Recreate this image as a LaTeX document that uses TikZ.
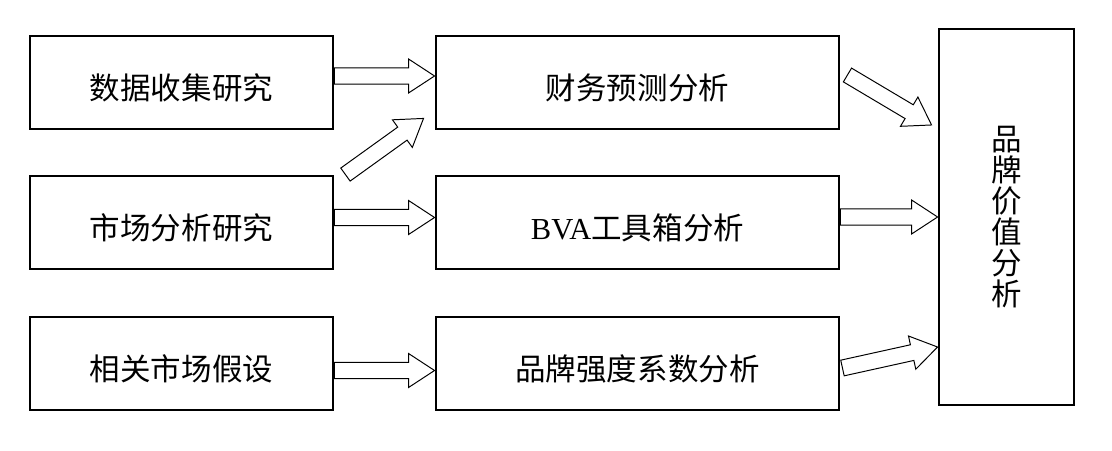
\documentclass[tikz,border=0pt]{standalone}
\usepackage{fontspec}
\setmainfont{Liberation Serif}
\newfontfamily\cjk{Noto Sans CJK SC}
\usetikzlibrary{calc}
\tikzset{
  box/.style={draw, line width=2pt, inner sep=0pt, font=\fontsize{21.7}{22}\selectfont\cjk},
  srcbox/.style={box, minimum width=7.575cm, minimum height=2.325cm, text height=0.93cm, text depth=0.1cm},
  midbox/.style={box, minimum width=10.075cm, minimum height=2.325cm, text height=0.93cm, text depth=0.1cm},
  valbox/.style={box, minimum width=3.375cm, minimum height=9.4cm, align=center},
  hollow/.style={draw, line width=0.7pt, fill=white, line join=miter}
}
\newcommand\blockarrow[2]{%
  \path let \p1=($(#2)-(#1)$), \n1={atan2(\y1,\x1)}, \n2={veclen(\x1,\y1)} in
    \pgfextra{\xdef\baang{\n1}\xdef\balen{\n2}};
  \draw[hollow, shift={(#1)}, rotate=\baang] (0pt,-5.7pt) -- ({\balen-18.5pt},-5.7pt)
    -- ({\balen-18.5pt},-12.1pt) -- (\balen,0pt) -- ({\balen-18.5pt},12.1pt)
    -- ({\balen-18.5pt},5.7pt) -- (0pt,5.7pt) -- cycle;}

\begin{document}
\begin{tikzpicture}[x=0.025cm, y=-0.025cm]
                \useasboundingbox (0,0) rectangle (1112,451);
                \node[srcbox] (data) at (181.5,82.5) {数据收集研究};
                \node[srcbox] (market) at (181.5,222.5) {市场分析研究};
                \node[srcbox] (assume) at (181.5,363.5) {相关市场假设};
                \node[midbox] (finance) at (637.5,82.5) {财务预测分析};
                \node[midbox] (bva) at (637.5,222.5) {{\rmfamily BVA}工具箱分析};
                \node[midbox] (strength) at (637.5,363.5) {品牌强度系数分析};
                \node[valbox] (value) at (1006.5,217) {品\\牌\\价\\值\\分\\析};
                \coordinate (t1) at ($(data.east)+(0,-6.5)$);
                \coordinate (h1) at ($(finance.west)+(0,-6.5)$);
                \coordinate (t2) at ($(market.east)+(0,-5)$);
                \coordinate (h2) at ($(bva.west)+(0,-5)$);
                \coordinate (t3) at ($(assume.east)+(0,7)$);
                \coordinate (h3) at ($(strength.west)+(0,7)$);
                \coordinate (t4) at ($(market.north east)+(11,0)$);
                \coordinate (h4) at ($(finance.south west)+(-11,-12)$);
                \coordinate (t5) at ($(finance.east)+(7,-7.5)$);
                \coordinate (h5) at ($(value.west)+(-6,-92)$);
                \coordinate (t6) at ($(bva.east)+(0,-5.5)$);
                \coordinate (t7) at ($(strength.east)+(2,4.5)$);
                \coordinate (h7) at ($(value.west)+(0,130)$);
                \blockarrow{t1}{h1}
                \blockarrow{t2}{h2}
                \blockarrow{t3}{h3}
                \blockarrow{t4}{h4}
                \blockarrow{t5}{h5}
                \blockarrow{t6}{value.west}
                \blockarrow{t7}{h7}
            \end{tikzpicture}
\end{document}
